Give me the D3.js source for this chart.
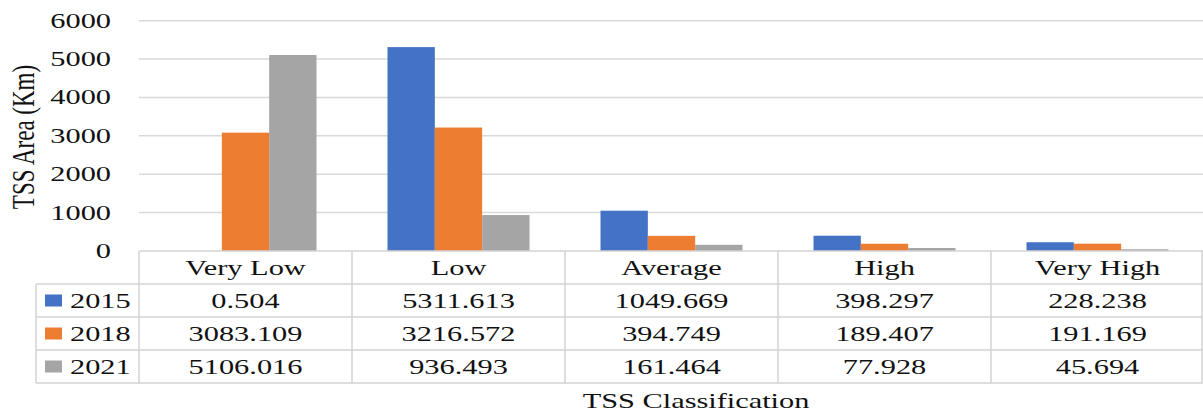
<!DOCTYPE html>
<html><head><meta charset="utf-8">
<script src="https://cdn.jsdelivr.net/npm/d3@7"></script>
<style>body{margin:0;background:#fff}svg{display:block}</style>
</head><body>
<svg id="c" width="1203" height="412"></svg>
<script>
const categories = ["Very Low","Low","Average","High","Very High"];
const seriesNames = ["2015","2018","2021"];
const values2015 = [0.504, 5311.613, 1049.669, 398.297, 228.238];
const values2018 = [3083.109, 3216.572, 394.749, 189.407, 191.169];
const values2021 = [5106.016, 936.493, 161.464, 77.928, 45.694];
const valueLabels2015 = ["0.504","5311.613","1049.669","398.297","228.238"];
const valueLabels2018 = ["3083.109","3216.572","394.749","189.407","191.169"];
const valueLabels2021 = ["5106.016","936.493","161.464","77.928","45.694"];
const yTicks = [0,1000,2000,3000,4000,5000,6000];
const colors = ["#4472C4","#ED7D31","#A5A5A5"];

(function () {
const series = [values2015, values2018, values2021];
const labels = [valueLabels2015, valueLabels2018, valueLabels2021];

const svg = d3.select("#c");
const FONT = "'Liberation Serif','Times New Roman',serif";
const SX = 1.38;
const plotLeft = 139, plotRight = 1204, plotTop = 20.7, base = 251;
const tableLeft = 36;
const rowH = 33;

const x0 = d3.scaleBand().domain(categories).range([plotLeft, plotRight]).paddingInner(0).paddingOuter(0);
const x1 = d3.scaleBand().domain(seriesNames).range([0, x0.bandwidth()]).paddingInner(0).paddingOuter(0.75);
const y = d3.scaleLinear().domain([0, 6000]).range([base, plotTop]);

function txt(g, x, yy, s, anchor, size, rot) {
  return g.append("text")
    .attr("transform", `translate(${x},${yy}) scale(${SX},1)` + (rot ? ` rotate(${rot})` : ""))
    .attr("text-anchor", anchor)
    .attr("font-family", FONT)
    .attr("font-size", size || 22)
    .attr("fill", "#111")
    .text(s);
}

// gridlines
svg.append("g").selectAll("line").data(yTicks.filter(d => d > 0)).join("line")
  .attr("x1", plotLeft).attr("x2", 1203)
  .attr("y1", d => y(d)).attr("y2", d => y(d))
  .attr("stroke", "#d9d9d9").attr("stroke-width", 1.5);

// y tick labels
const yl = svg.append("g");
yTicks.forEach(t => txt(yl, 111, y(t) + 7, d3.format("d")(t), "end", 22));

// axis title
txt(svg, 34, 137, "TSS Area (Km)", "middle", 23, -90);

// bars
const bars = svg.append("g");
categories.forEach((c, i) => {
  seriesNames.forEach((s, j) => {
    bars.append("rect")
      .attr("x", x0(c) + x1(s))
      .attr("width", x1.bandwidth())
      .attr("y", y(series[j][i]))
      .attr("height", base - y(series[j][i]))
      .attr("fill", colors[j]);
  });
});

// table
const tb = svg.append("g");
const stroke = "#d3d3d3";
const tableBottom = base + rowH * 4;
tb.append("line").attr("x1", plotLeft).attr("x2", 1203).attr("y1", base).attr("y2", base).attr("stroke", stroke).attr("stroke-width", 1.5);
for (let r = 1; r <= 4; r++) {
  tb.append("line").attr("x1", tableLeft).attr("x2", 1203)
    .attr("y1", base + rowH * r).attr("y2", base + rowH * r)
    .attr("stroke", stroke).attr("stroke-width", 1.5);
}
tb.append("line").attr("x1", tableLeft).attr("x2", tableLeft).attr("y1", base + rowH).attr("y2", tableBottom).attr("stroke", stroke).attr("stroke-width", 1.5);
categories.forEach(c => {
  tb.append("line").attr("x1", x0(c)).attr("x2", x0(c)).attr("y1", base).attr("y2", tableBottom).attr("stroke", stroke).attr("stroke-width", 1.5);
});
tb.append("line").attr("x1", 1202).attr("x2", 1202).attr("y1", base).attr("y2", tableBottom).attr("stroke", stroke).attr("stroke-width", 1.5);

categories.forEach(c => txt(tb, x0(c) + x0.bandwidth() / 2, base + rowH / 2 + 7.5, c, "middle", 22));
seriesNames.forEach((s, j) => {
  const cy = base + rowH * (j + 1) + rowH / 2;
  tb.append("rect").attr("x", 45).attr("y", cy - 6).attr("width", 17).attr("height", 12).attr("fill", colors[j]);
  txt(tb, 70, cy + 7, s, "start", 22);
  categories.forEach((c, i) => txt(tb, x0(c) + x0.bandwidth() / 2, cy + 7, labels[j][i], "middle", 22));
});

txt(svg, 696, 408, "TSS Classification", "middle", 22);
})();
</script>
</body></html>
